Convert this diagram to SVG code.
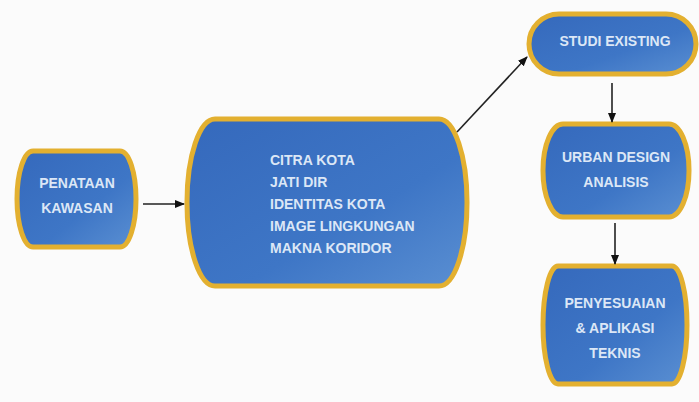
<svg xmlns="http://www.w3.org/2000/svg" width="699" height="402" viewBox="0 0 699 402">
<defs>
<linearGradient id="g" x1="0" y1="0" x2="1" y2="1">
<stop offset="0" stop-color="#3569bc"/>
<stop offset="0.6" stop-color="#3e76c6"/>
<stop offset="1" stop-color="#5a8fd2"/>
</linearGradient>
<marker id="ah2" viewBox="0 0 10 10" refX="9" refY="5" markerWidth="10" markerHeight="10" orient="auto" markerUnits="userSpaceOnUse">
<path d="M0,1 L10,5 L0,9 z" fill="#111"/>
</marker>
</defs>
<style>
.box{fill:url(#g);stroke:#e3b030;stroke-width:5}
.t{font-family:"Liberation Sans",Arial,sans-serif;font-weight:bold;font-size:14px;fill:#dce7f6;text-anchor:middle}
.tl{text-anchor:start}
.c{stroke:#222;stroke-width:1.6;fill:none;marker-end:url(#ah2)}
</style>
<rect width="699" height="402" fill="#fbfbfb"/>
<g id="penataan">
<rect class="box" x="17" y="151" width="119" height="96" rx="16" ry="48"/>
<text class="t" x="77" y="188">PENATAAN</text>
<text class="t" x="77" y="213">KAWASAN</text>
</g>
<g id="citra">
<rect class="box" x="187" y="119" width="280" height="167" rx="28" ry="83"/>
<text class="t tl" x="270" y="165">CITRA KOTA</text>
<text class="t tl" x="270" y="187">JATI DIR</text>
<text class="t tl" x="270" y="209">IDENTITAS KOTA</text>
<text class="t tl" x="270" y="231">IMAGE LINGKUNGAN</text>
<text class="t tl" x="270" y="253">MAKNA KORIDOR</text>
</g>
<g id="studi">
<rect class="box" x="529" y="14" width="167" height="60" rx="30" ry="30"/>
<text class="t" x="615" y="46">STUDI EXISTING</text>
</g>
<g id="urban">
<rect class="box" x="543" y="124" width="146" height="93" rx="20" ry="46"/>
<text class="t" x="616" y="162">URBAN DESIGN</text>
<text class="t" x="616" y="187">ANALISIS</text>
</g>
<g id="penyesuaian">
<rect class="box" x="543" y="266" width="144" height="118" rx="15" ry="59"/>
<text class="t" x="615" y="308">PENYESUAIAN</text>
<text class="t" x="615" y="333">&amp; APLIKASI</text>
<text class="t" x="615" y="358">TEKNIS</text>
</g>
<g id="connectors">
<line class="c" x1="143" y1="204" x2="184" y2="204"/>
<line class="c" x1="457" y1="132" x2="527" y2="57"/>
<line class="c" x1="612" y1="83" x2="612" y2="122"/>
<line class="c" x1="615" y1="223" x2="615" y2="264"/>
</g>
</svg>
